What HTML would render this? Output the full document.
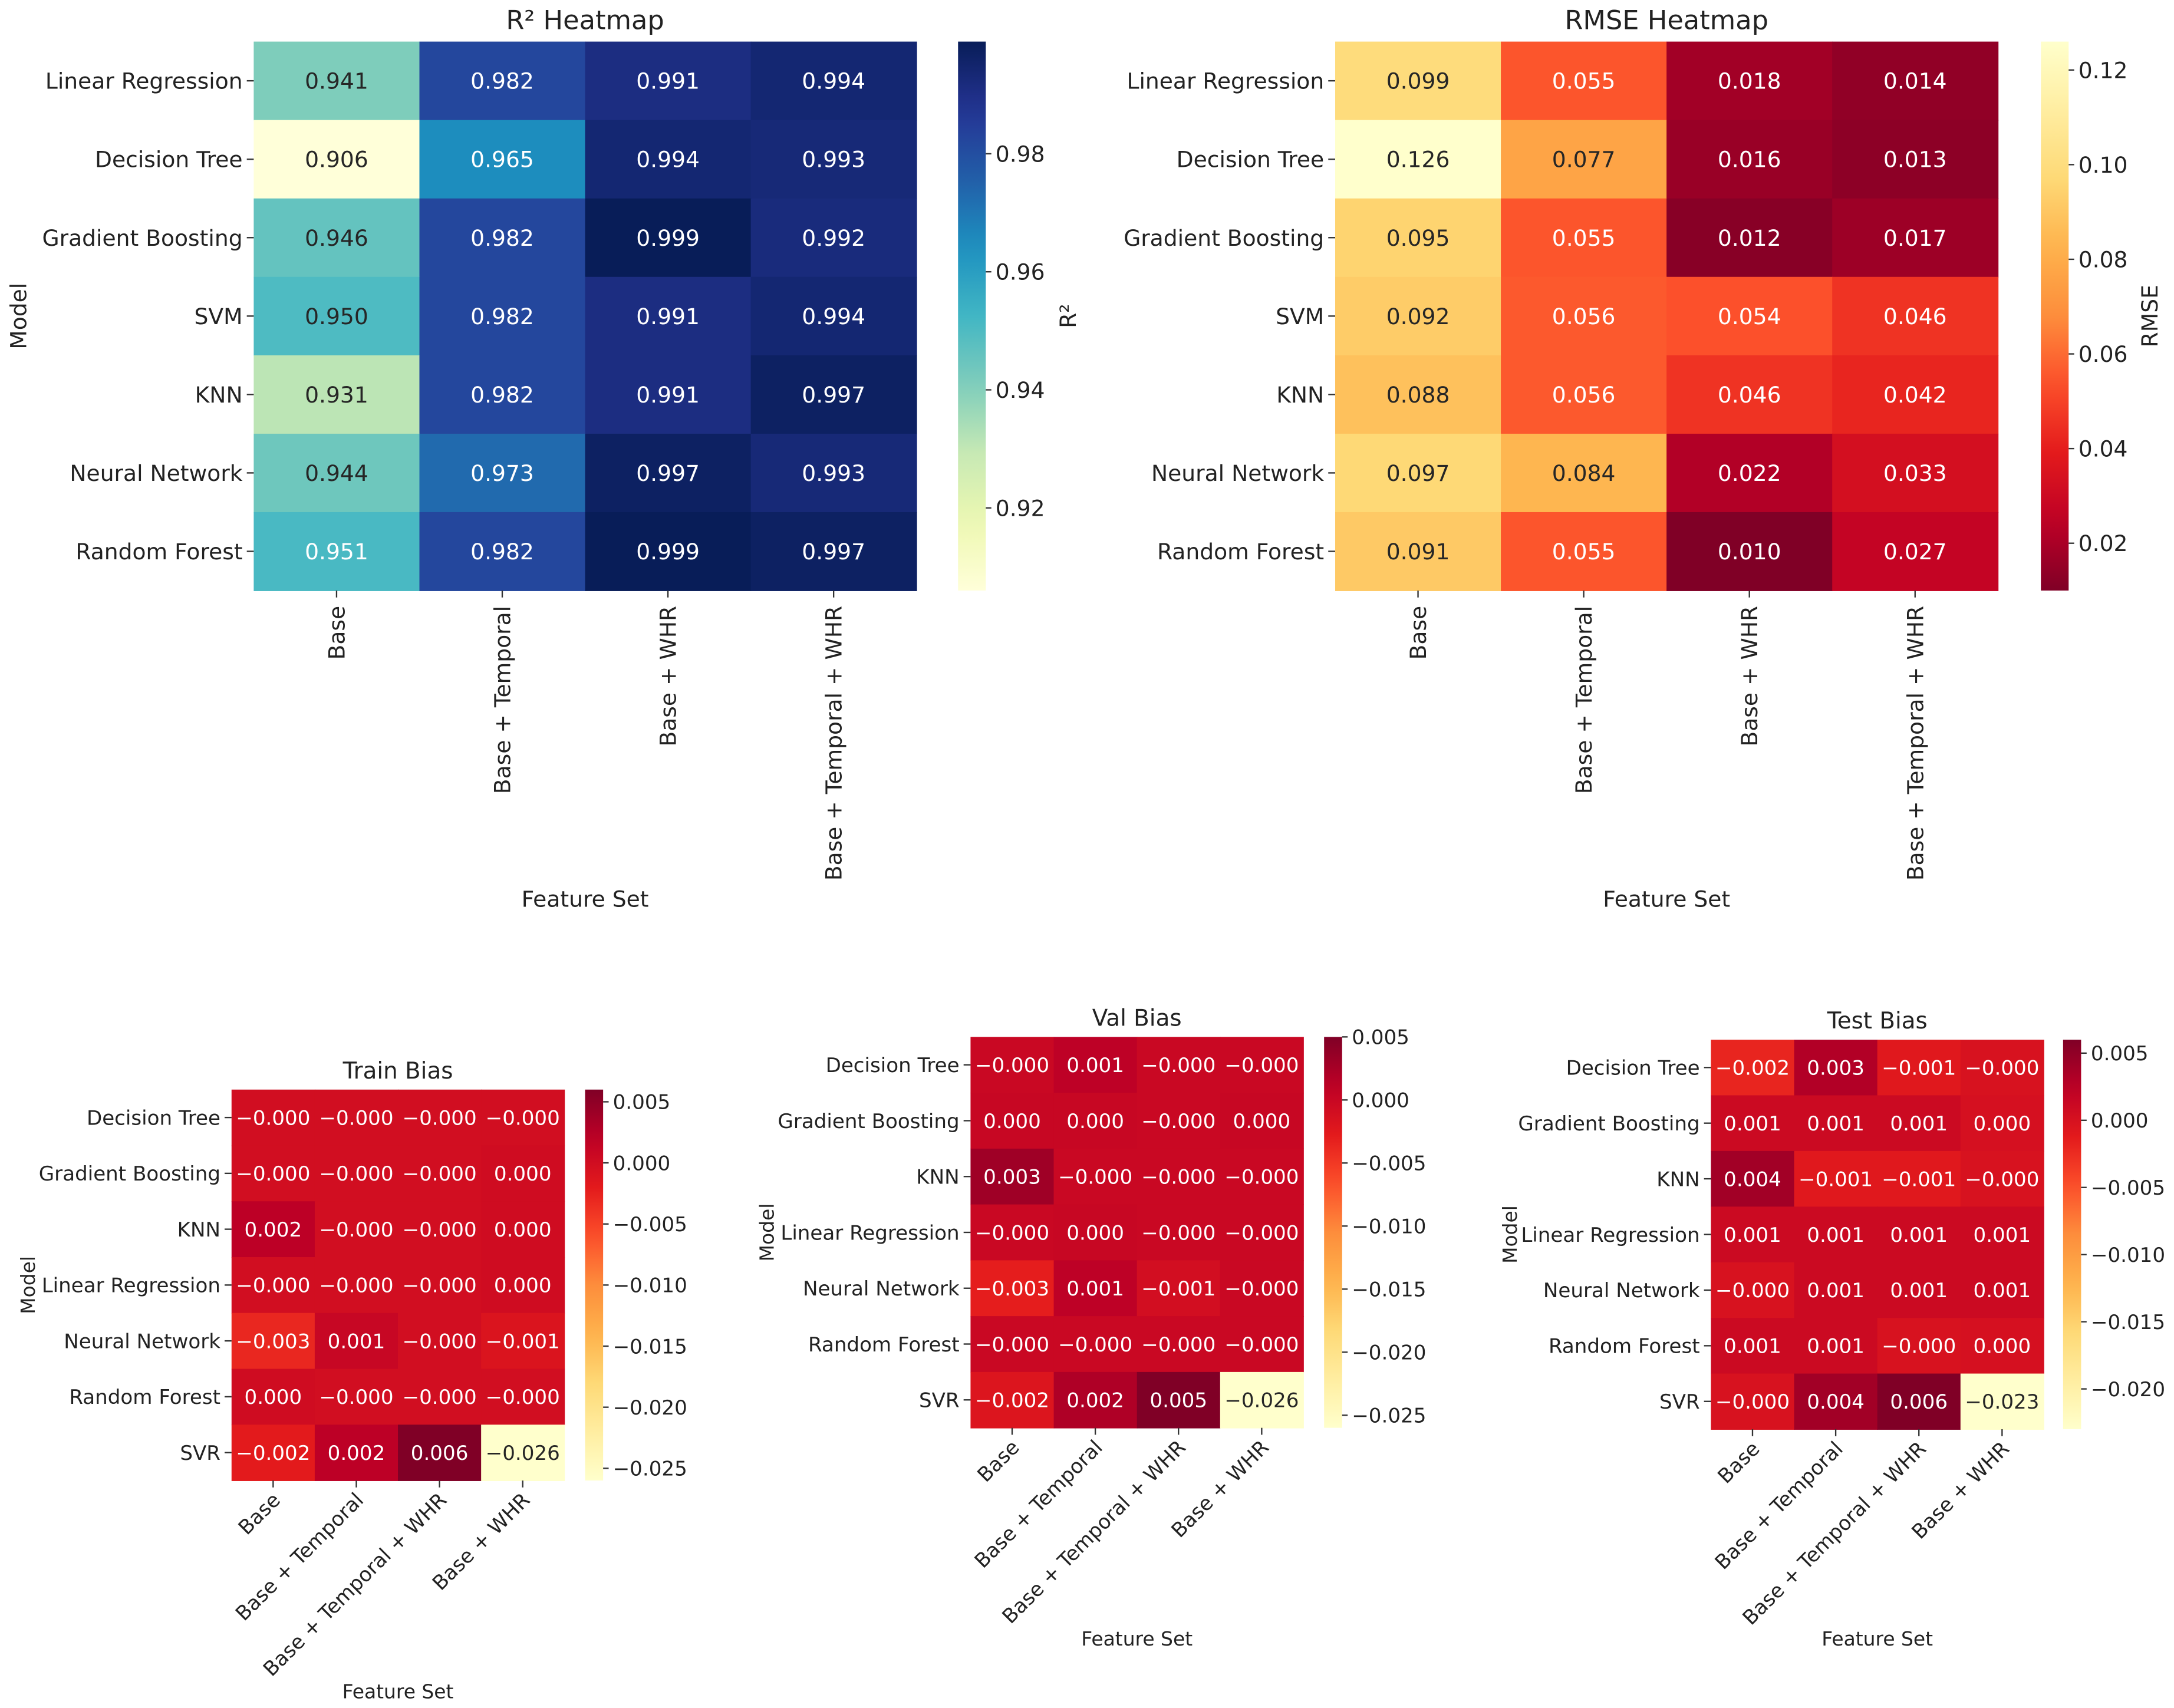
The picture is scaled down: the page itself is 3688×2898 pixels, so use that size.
<!DOCTYPE html>
<html><head><meta charset="utf-8"><style>
html,body{margin:0;padding:0;background:#fff;}
svg{display:block;}
text{font-family:"DejaVu Sans","Liberation Sans",sans-serif;fill:#222;}
</style></head><body>
<svg id="fig" xmlns="http://www.w3.org/2000/svg" width="3688" height="2898" viewBox="0 0 1568 1232.1"></svg>
<script>
// ---- data ----
const r2Models = ["Linear Regression","Decision Tree","Gradient Boosting","SVM","KNN","Neural Network","Random Forest"];
const r2Features = ["Base","Base + Temporal","Base + WHR","Base + Temporal + WHR"];
const r2Values = [
 [0.941,0.982,0.991,0.994],[0.906,0.965,0.994,0.993],[0.946,0.982,0.999,0.992],
 [0.950,0.982,0.991,0.994],[0.931,0.982,0.991,0.997],[0.944,0.973,0.997,0.993],[0.951,0.982,0.999,0.997]];
const r2Ticks = [0.92,0.94,0.96,0.98];
const rmseValues = [
 [0.099,0.055,0.018,0.014],[0.126,0.077,0.016,0.013],[0.095,0.055,0.012,0.017],
 [0.092,0.056,0.054,0.046],[0.088,0.056,0.046,0.042],[0.097,0.084,0.022,0.033],[0.091,0.055,0.010,0.027]];
const rmseTicks = [0.02,0.04,0.06,0.08,0.10,0.12];
const biasModels = ["Decision Tree","Gradient Boosting","KNN","Linear Regression","Neural Network","Random Forest","SVR"];
const biasFeatures = ["Base","Base + Temporal","Base + Temporal + WHR","Base + WHR"];
const trainBias = [
 [-0.0001,-0.0001,-0.0001,-0.0001],[-0.0001,-0.0001,-0.0001,0.0001],[0.002,-0.0001,-0.0001,0.0001],
 [-0.0001,-0.0001,-0.0001,0.0001],[-0.003,0.001,-0.0001,-0.001],[0.0001,-0.0001,-0.0001,-0.0001],[-0.002,0.002,0.006,-0.026]];
const valBias = [
 [-0.0001,0.001,-0.0001,-0.0001],[0.0001,0.0001,-0.0001,0.0001],[0.003,-0.0001,-0.0001,-0.0001],
 [-0.0001,0.0001,-0.0001,-0.0001],[-0.003,0.001,-0.001,-0.0001],[-0.0001,-0.0001,-0.0001,-0.0001],[-0.002,0.002,0.005,-0.026]];
const testBias = [
 [-0.002,0.003,-0.001,-0.0001],[0.001,0.001,0.001,0.0001],[0.004,-0.001,-0.001,-0.0001],
 [0.001,0.001,0.001,0.001],[-0.0001,0.001,0.001,0.001],[0.001,0.001,-0.0001,0.0001],[-0.0001,0.004,0.006,-0.023]];
const biasTicks = [-0.025,-0.020,-0.015,-0.010,-0.005,0.000,0.005];
const testBiasTicks = [-0.020,-0.015,-0.010,-0.005,0.000,0.005];

const YlGnBu = ["#ffffd9","#edf8b1","#c7e9b4","#7fcdbb","#41b6c4","#1d91c0","#225ea8","#253494","#081d58"];
const YlOrRd = ["#ffffcc","#ffeda0","#fed976","#feb24c","#fd8d3c","#fc4e2a","#e31a1c","#bd0026","#800026"];
const NS="http://www.w3.org/2000/svg";
const svg=document.getElementById('fig');
function hex(h){return [1,3,5].map(i=>parseInt(h.substr(i,2),16));}
function cmap(list,t,rev){t=Math.max(0,Math.min(1,t));if(rev)t=1-t;const p=t*(list.length-1);const i=Math.min(Math.floor(p),list.length-2);const f=p-i;const a=hex(list[i]),b=hex(list[i+1]);return a.map((v,k)=>Math.round(v+(b[k]-v)*f));}
function rgb(c){return `rgb(${c[0]},${c[1]},${c[2]})`;}
function lum(c){const l=c.map(v=>{v/=255;return v<=0.03928?v/12.92:Math.pow((v+0.055)/1.055,2.4);});return 0.2126*l[0]+0.7152*l[1]+0.0722*l[2];}
function el(tag,attrs,parent){const e=document.createElementNS(NS,tag);for(const k in attrs)e.setAttribute(k,attrs[k]);(parent||svg).appendChild(e);return e;}
function fmt(v,d){return v.toFixed(d).replace('-','\u2212');}
let gid=0;
function heatmap(o){
  const g=el('g',{});
  
  
  const vals=o.values.flat();const vmin=Math.min(...vals),vmax=Math.max(...vals);
  const nr=o.values.length,nc=o.values[0].length;
  const cw=(o.x1-o.x0)/nc,ch=(o.y1-o.y0)/nr;
  const xs=i=>o.x0+i*cw, ys=j=>o.y0+j*ch;
  o.values.forEach((row,j)=>row.forEach((v,i)=>{
    const c=cmap(o.cm,(v-vmin)/(vmax-vmin),o.rev);
    const r=el('rect',{x:xs(i),y:ys(j),width:cw+0.4,height:ch+0.4,fill:rgb(c)},g);
    
    
    const t=el('text',{x:xs(i)+cw/2,y:ys(j)+ch/2+o.fs*0.36,'text-anchor':'middle','font-size':o.fs},g);
    t.style.fill=lum(c)<0.408?'#fff':'#262626';
    t.textContent=fmt(v,3);
    
    
  }));
  o.rows.forEach((m,j)=>{
    const y=ys(j)+ch/2;
    el('line',{x1:o.x0-5,x2:o.x0,y1:y,y2:y,stroke:'#333','stroke-width':1},g);
    const t=el('text',{x:o.x0-8,y:y+o.fs*0.36,'text-anchor':'end','font-size':o.fs},g);
    t.textContent=m;
    
    
  });
  o.cols.forEach((f,i)=>{
    const x=xs(i)+cw/2;
    el('line',{x1:x,x2:x,y1:o.y1,y2:o.y1+5,stroke:'#333','stroke-width':1},g);
    let t;
    if(o.rot===90){t=el('text',{x:0,y:0,'text-anchor':'end','font-size':o.fs,transform:`translate(${x+o.fs*0.36},${o.y1+11}) rotate(-90)`},g);}
    else{t=el('text',{x:0,y:0,'text-anchor':'end','font-size':o.fs,transform:`translate(${x+6},${o.y1+15}) rotate(-45)`},g);}
    t.textContent=f;
    
    
  });
  let t=el('text',{x:(o.x0+o.x1)/2,y:o.titleY,'text-anchor':'middle','font-size':o.tfs},g);t.textContent=o.title;
  
  t=el('text',{x:(o.x0+o.x1)/2,y:o.xlabY,'text-anchor':'middle','font-size':o.lfs},g);t.textContent='Feature Set';
  
  if(o.ylabX){
    t=el('text',{x:0,y:0,'text-anchor':'middle','font-size':o.lfs,transform:`translate(${o.ylabX},${(o.y0+o.y1)/2}) rotate(-90)`},g);t.textContent='Model';
    
  }
  const id='grad'+(gid++);
  const defs=el('defs',{},g);const lg=el('linearGradient',{id:id,x1:0,y1:1,x2:0,y2:0},defs);
  for(let k=0;k<=20;k++)el('stop',{offset:k/20,'stop-color':rgb(cmap(o.cm,k/20,o.rev))},lg);
  const cb=el('rect',{x:o.cbx,y:o.y0,width:o.cbw,height:o.y1-o.y0,fill:`url(#${id})`},g);
  
  const cy=v=>o.y1-(v-vmin)/(vmax-vmin)*(o.y1-o.y0);
  o.ticks.forEach(v=>{
    const y=cy(v);
    el('line',{x1:o.cbx+o.cbw,x2:o.cbx+o.cbw+4,y1:y,y2:y,stroke:'#333','stroke-width':1},g);
    const tt=el('text',{x:o.cbx+o.cbw+7,y:y+o.fs*0.36,'font-size':o.fs},g);
    tt.textContent=fmt(v,o.tdec);
    
  });
  if(o.cblab){t=el('text',{x:0,y:0,'text-anchor':'middle','font-size':o.lfs,transform:`translate(${o.cblabX},${(o.y0+o.y1)/2}) rotate(-90)`},g);t.textContent=o.cblab;
    }
}
heatmap({name:'r2-heatmap',values:r2Values,rows:r2Models,cols:r2Features,x0:183,x1:661,y0:30,y1:426,cm:YlGnBu,rev:false,fs:16,tfs:19,lfs:16,rot:90,title:'R\u00b2 Heatmap',titleY:21,xlabY:654,ylabX:19,cbx:691,cbw:20,ticks:r2Ticks,tdec:2,cblab:'R\u00b2',cblabX:776});
heatmap({name:'rmse-heatmap',values:rmseValues,rows:r2Models,cols:r2Features,x0:963,x1:1441,y0:30,y1:426,cm:YlOrRd,rev:true,fs:16,tfs:19,lfs:16,rot:90,title:'RMSE Heatmap',titleY:21,xlabY:654,ylabX:0,cbx:1472,cbw:20,ticks:rmseTicks,tdec:2,cblab:'RMSE',cblabX:1556});
heatmap({name:'train-bias-heatmap',values:trainBias,rows:biasModels,cols:biasFeatures,x0:167,x1:407,y0:786,y1:1068,cm:YlOrRd,rev:false,fs:14.5,tfs:16.5,lfs:14,rot:45,title:'Train Bias',titleY:778,xlabY:1225,ylabX:25,cbx:422,cbw:13,ticks:biasTicks,tdec:3});
heatmap({name:'val-bias-heatmap',values:valBias,rows:biasModels,cols:biasFeatures,x0:700,x1:940,y0:748,y1:1030,cm:YlOrRd,rev:false,fs:14.5,tfs:16.5,lfs:14,rot:45,title:'Val Bias',titleY:740,xlabY:1187,ylabX:558,cbx:955,cbw:13,ticks:biasTicks,tdec:3});
heatmap({name:'test-bias-heatmap',values:testBias,rows:biasModels,cols:biasFeatures,x0:1234,x1:1474,y0:750,y1:1031,cm:YlOrRd,rev:false,fs:14.5,tfs:16.5,lfs:14,rot:45,title:'Test Bias',titleY:742,xlabY:1187,ylabX:1094,cbx:1488,cbw:13,ticks:testBiasTicks,tdec:3});
</script>
</body></html>
